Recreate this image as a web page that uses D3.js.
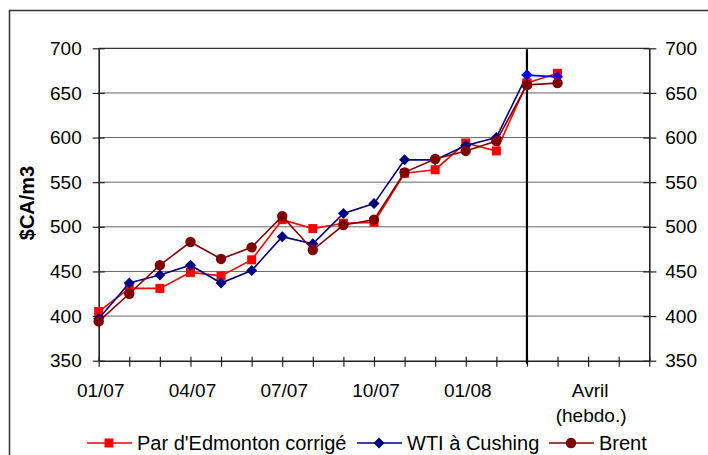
<!DOCTYPE html>
<html>
<head>
<meta charset="utf-8">
<script src="https://cdn.jsdelivr.net/npm/d3@7"></script>
<style>
  body { margin: 0; background: #fff; }
  svg { display: block; font-family: "Liberation Sans", Arial, sans-serif; }
</style>
</head>
<body>
<svg id="chart" width="708" height="455"></svg>
<script>
// categories: 15 months + weekly slots for April
const categories = ["01/07", "", "", "04/07", "", "", "07/07", "", "", "10/07", "", "", "01/08", "", "", "", "Avril\n(hebdo.)", "", ""];
const yTicks = [350, 400, 450, 500, 550, 600, 650, 700];

// monthly values (01/07 .. 03/08)
const edmonton = [405, 431, 431, 449, 445, 463, 508, 498, 504, 505, 560, 564, 594, 585, 661];
const wti = [397, 437, 446, 457, 437, 451, 489, 481, 515, 526, 575, 575, 591, 600, 670];
const brent = [394, 425, 457, 483, 464, 477, 512, 474, 502, 508, 561, 576, 585, 596, 659];

// weekly values (start at category 14)
const weekStart = 14;
const edmontonWeek = [661, 672];
const wtiWeek = [670, 668];
const brentWeek = [659, 661];

const svg = d3.select("#chart");
const plotLeft = 98.7, plotRight = 649.3, plotTop = 48.3, plotBottom = 360.7;

const x = d3.scalePoint().domain(d3.range(categories.length)).range([plotLeft, plotRight]);
const y = d3.scaleLinear().domain([350, 700]).range([plotBottom, plotTop]);

// outer frame
svg.append("rect")
    .attr("x", 9.5).attr("y", 10.5)
    .attr("width", 720).attr("height", 460)
    .attr("fill", "none").attr("stroke", "#333").attr("stroke-width", 1.5);

// gridlines
svg.append("g").selectAll("line")
    .data(yTicks.filter(d => d > 350))
    .join("line")
    .attr("x1", plotLeft).attr("x2", plotRight)
    .attr("y1", d => y(d)).attr("y2", d => y(d))
    .attr("stroke", d => d === 700 ? "#000" : "#666")
    .attr("stroke-width", 1);

// left axis
const yAxisL = svg.append("g")
    .attr("transform", `translate(${plotLeft},0)`)
    .call(d3.axisLeft(y).tickValues(yTicks).tickSizeInner(6).tickSizeOuter(0).tickPadding(11));
// right axis
const yAxisR = svg.append("g")
    .attr("transform", `translate(${plotRight},0)`)
    .call(d3.axisRight(y).tickValues(yTicks).tickSizeInner(7).tickSizeOuter(0).tickPadding(9));
// bottom axis
const xAxis = svg.append("g")
    .attr("transform", `translate(0,${plotBottom})`)
    .call(d3.axisBottom(x).tickSizeInner(6).tickSizeOuter(0).tickFormat(""));

[yAxisL, yAxisR, xAxis].forEach(a => {
    a.select(".domain").attr("stroke", "#222").attr("stroke-width", 1.6);
    a.selectAll(".tick line").attr("stroke", "#222").attr("stroke-width", 1.2);
    a.selectAll("text").attr("font-size", "19px").attr("fill", "#000")
        .attr("font-family", "'Liberation Sans', Arial, sans-serif");
});
// crossing ticks
yAxisL.selectAll(".tick line").attr("x1", 6);
yAxisR.selectAll(".tick line").attr("x1", -6);
xAxis.selectAll(".tick line").attr("y1", -4);

// category labels
const xLab = svg.append("g");
categories.forEach((c, i) => {
    if (!c) return;
    const t = xLab.append("text")
        .attr("text-anchor", "middle")
        .attr("font-size", "19px")
        .attr("y", 397);
    c.split("\n").forEach((line, j) => {
        t.append("tspan").attr("x", x(i) + (j ? 3 : 2)).attr("dy", j ? 25 : 0).text(line);
    });
});

// separator between monthly and weekly
svg.append("line")
    .attr("x1", x(weekStart)).attr("x2", x(weekStart))
    .attr("y1", plotTop + 1).attr("y2", plotBottom + 3)
    .attr("stroke", "#000").attr("stroke-width", 2.2);

// axis title
svg.append("text")
    .attr("transform", `translate(34,203) rotate(-90)`)
    .attr("text-anchor", "middle")
    .attr("font-size", "20px")
    .attr("font-weight", "bold")
    .text("$CA/m3");

const line = d3.line().x(d => x(d.i)).y(d => y(d.v));

function marker(g, type, cx, cy, color) {
    if (type === "square") {
        g.append("rect").attr("x", cx - 4.5).attr("y", cy - 4.5)
            .attr("width", 9).attr("height", 9).attr("fill", color);
    } else if (type === "diamond") {
        g.append("path").attr("d", `M${cx},${cy - 5.5}L${cx + 5.5},${cy}L${cx},${cy + 5.5}L${cx - 5.5},${cy}Z`)
            .attr("fill", color);
    } else {
        g.append("circle").attr("cx", cx).attr("cy", cy).attr("r", 5.2).attr("fill", color);
    }
}

function drawSeries(values, offset, color, type) {
    const pts = values.map((v, k) => ({ i: k + offset, v }));
    const g = svg.append("g");
    g.append("path").attr("d", line(pts))
        .attr("fill", "none").attr("stroke", color).attr("stroke-width", 1.6);
    pts.forEach(p => marker(g, type, x(p.i), y(p.v), color));
}

drawSeries(edmonton, 0, "#ff0000", "square");
drawSeries(wti, 0, "#000080", "diamond");
drawSeries(brent, 0, "#800000", "circle");
drawSeries(edmontonWeek, weekStart, "#ff0000", "square");
drawSeries(wtiWeek, weekStart, "#0000ff", "diamond");
drawSeries(brentWeek, weekStart, "#800000", "circle");

// legend
const legend = [
    { name: "Par d'Edmonton corrigé", color: "#ff0000", type: "square", x0: 87 },
    { name: "WTI à Cushing", color: "#000080", type: "diamond", x0: 357 },
    { name: "Brent", color: "#800000", type: "circle", x0: 549 }
];
const ly = 443;
legend.forEach(d => {
    const g = svg.append("g");
    g.append("line").attr("x1", d.x0).attr("x2", d.x0 + 45)
        .attr("y1", ly).attr("y2", ly).attr("stroke", d.color).attr("stroke-width", 1.6);
    marker(g, d.type, d.x0 + 22, ly, d.color);
    g.append("text").attr("x", d.x0 + 50).attr("y", 450)
        .attr("font-size", "20px").text(d.name);
});
</script>
</body>
</html>
